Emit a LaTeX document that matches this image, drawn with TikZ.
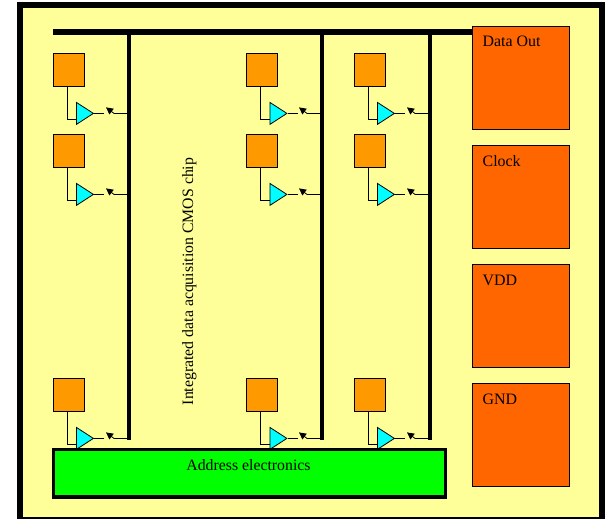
\documentclass[tikz,border=0pt]{standalone}
\usepackage{fontspec}
\setmainfont{Liberation Serif}
\usetikzlibrary{positioning, arrows.meta, shapes.geometric, calc}
\definecolor{chipyellow}{RGB}{255, 255, 153}
\definecolor{pixelorange}{RGB}{255, 153, 0}
\definecolor{padorange}{RGB}{255, 102, 0}
\definecolor{ampcyan}{RGB}{0, 255, 255}
\definecolor{addrgreen}{RGB}{0, 255, 0}
\tikzset{
  chip/.style={
    draw=black,
    line width=6pt,
    fill=chipyellow
  },
  pixelbox/.style={
    draw=black,
    line width=0.8pt,
    fill=pixelorange,
    minimum width=31pt,
    minimum height=33pt,
    inner sep=0pt
  },
  amp/.style={
    draw=black,
    line width=0.8pt,
    fill=ampcyan,
    isosceles triangle,
    isosceles triangle stretches,
    minimum width=22pt,
    minimum height=17pt,
    inner sep=0pt,
    anchor=lower side
  },
  pad/.style={
    draw=black,
    line width=0.8pt,
    fill=padorange,
    minimum width=97pt,
    minimum height=103pt,
    inner sep=0pt
  },
  padlabel/.style={
    font=\fontsize{15.9}{18}\selectfont,
    anchor=base west,
    inner sep=0pt
  },
  bus/.style={
    draw=black,
    line width=4pt
  },
  wire/.style={
    draw=black,
    line width=0.8pt
  },
  switch/.style={
    wire,
    -{Stealth[inset=0pt,length=7pt,width=7pt]}
  }
}
\begin{document}
\begin{tikzpicture}[x=1pt, y=-1pt]
  \useasboundingbox (0, 0) rectangle (605, 519);
  \path[chip] (20, 5) rectangle (602, 519.5);

  % pads
  \node[pad] (dataout) at (520.75, 78) {};
  \node[pad] (clock) at (520.75, 197) {};
  \node[pad] (vdd) at (520.75, 316) {};
  \node[pad] (gnd) at (520.75, 435) {};
  \node[padlabel] (dataoutlabel) at (482.5, 47) {Data Out};
  \node[padlabel] (clocklabel) at (482.5, 166) {Clock};
  \node[padlabel] (vddlabel) at (482.5, 285) {VDD};
  \node[padlabel] (gndlabel) at (482.5, 404) {GND};

  % top bus
  \coordinate (busstart) at (53, 32);
  \draw[bus, line width=6pt] (busstart) -- (dataout.west |- busstart);

  % pixels
  \foreach \col/\px/\bx in {a/68.5/129, b/262/322, c/369.5/430} {
    \coordinate (bustop\col) at (\bx, 32);
    \coordinate (busend\col) at (\bx, 438);
    \draw[bus] (bustop\col) -- (busend\col) -- ++(-2, 0);
    \foreach \row/\py in {1/69.5, 2/150.5, 3/394.5} {
      \node[pixelbox] (box\col\row) at (\px, \py) {};
      \node[amp] (amp\col\row) at ($(box\col\row.south)+(7.5, 27)$) {};
      \coordinate (tap\col\row) at (\bx, 0 |- amp\col\row.apex);
      \coordinate (out\col\row) at ($(amp\col\row.apex)+(10, 0)$);
      \coordinate (drop\col\row) at ($(box\col\row.south)+(-1.5, 0)$);
      \draw[wire] (drop\col\row) |- ($(amp\col\row.lower side)+(0, 5.5)$);
      \draw[wire] (amp\col\row.apex) -- (out\col\row);
      \draw[switch] (tap\col\row) -- ++(-15, 0) -- ++(-8, -6);
    }
  }

  % address electronics
  \node[draw=black, line width=3.5pt, fill=addrgreen, minimum width=392pt, minimum height=47.5pt, inner sep=0pt] (address) at (249.5, 473) {};
  \node[font=\fontsize{15.8}{18}\selectfont, anchor=base] (addresslabel) at (248.5, 470) {Address electronics};

  % chip name
  \node[font=\fontsize{15.8}{18}\selectfont, rotate=90, anchor=base] (chipname) at (193, 281.5) {Integrated data acquisition CMOS chip};
\end{tikzpicture}
\end{document}
